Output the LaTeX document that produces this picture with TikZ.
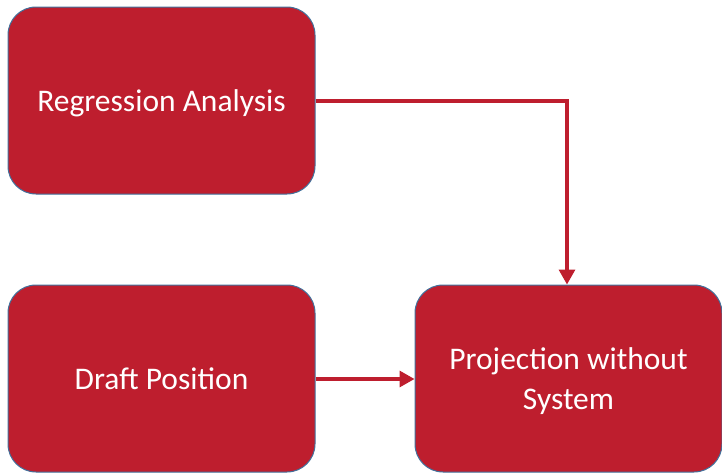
\documentclass[tikz,border=0pt]{standalone}
\usepackage{fontspec}
\setmainfont{Carlito}
\usetikzlibrary{arrows.meta}
\definecolor{boxred}{RGB}{190,30,46}
\definecolor{boxedge}{RGB}{65,113,156}
\begin{document}
\begin{tikzpicture}[x=1pt,y=-1pt,
  box/.style={draw=boxedge,line width=1pt,fill=boxred,rounded corners=28pt,
    minimum width=307pt,minimum height=187pt,text=white,align=center,
    font=\fontsize{31.5}{40}\selectfont,inner sep=0pt,text depth=0pt},
  conn/.style={draw=boxred,line width=3.2pt,-{Triangle[length=15pt,width=16pt]}}]
\useasboundingbox (0,0) rectangle (722,472);
\node[box] (reg) at (161.5,100.5) {Regression Analysis};
\node[box] (draft) at (161.5,378.5) {Draft Position};
\node[box] (proj) at (568.5,378.5) {Projection without\\System};
\draw[conn] (reg.east |- 0,101) -| (proj.north -| 567,0);
\draw[conn] (draft.east |- 0,379) -- (proj.west |- 0,379);
\end{tikzpicture}
\end{document}
